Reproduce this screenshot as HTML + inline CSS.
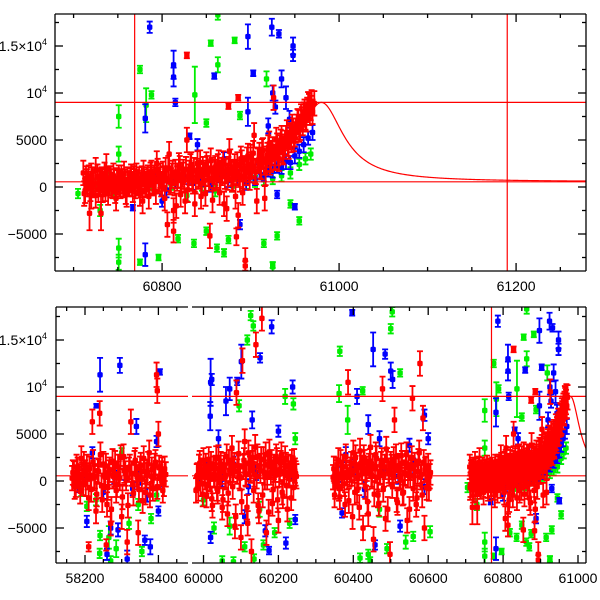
<!DOCTYPE html>
<html><head><meta charset="utf-8"><style>
html,body{margin:0;padding:0;background:#fff;}
svg{display:block;font-family:"Liberation Sans",sans-serif;}
</style></head><body>
<svg id="chart" width="600" height="600" viewBox="0 0 600 600">
<defs>
<clipPath id="clipTop"><rect x="55" y="14" width="531" height="257"/></clipPath>
<clipPath id="clipBot"><rect x="56" y="307" width="530" height="256"/></clipPath>
</defs>
<rect x="0" y="0" width="600" height="600" fill="#fff"/>
<g id="topData" clip-path="url(#clipTop)"></g>
<g id="botData" clip-path="url(#clipBot)"></g>
<g id="axes"></g>
</svg>
<script>
// ---- data: [time (MJD), flux, error] ----
const redD = [[60712,-700],[60714,900],[60716,300],[60718,-2800,1800],[60720,1200],[60722,200],[60725,1800],[60728,-300],[60730,500],[60732,800],[60734,300],[60736,-200],[60738,700],[60740,400],[60742,900],[60744,100],[60746,600],[60748,-1200],[60750,500],[60752,300],[60754,1000],[60756,200],[60758,600],[60760,-800],[60762,400],[60764,700],[60766,300],[60768,900],[60770,100],[60772,500],[60774,800],[60776,200],[60778,-1500],[60780,600],[60782,300],[60784,1000],[60786,500],[60788,1500],[60790,400],[60792,800],[60794,2500],[60796,600],[60798,1200],[60800,300],[60802,900],[60804,1800],[60806,-4000],[60808,3500],[60810,700],[60812,1500],[60814,400],[60816,-2000],[60818,1200],[60820,2000],[60822,800],[60824,1600],[60826,-1500],[60828,5000],[60830,1100],[60832,2200],[60834,900],[60836,1800],[60838,600],[60840,2500],[60842,1300],[60844,-1000],[60846,1900],[60848,700],[60850,2400],[60852,1400],[60854,-5200],[60856,1800],[60858,900],[60860,2000],[60862,1200],[60864,2600],[60866,800],[60868,1500],[60870,-1800],[60872,1700],[60874,1000],[60876,3800],[60878,1400],[60880,900],[60882,2200],[60884,1500],[60886,-3000],[60888,800],[60890,2600],[60892,1100],[60894,-7800],[60896,2900],[60898,1800],[60900,3200],[60902,2200],[60904,5500],[60906,1600],[60908,2800],[60910,3400],[60912,2100],[60914,3900],[60916,-1200],[60918,3000],[60920,4200],[60922,2600],[60924,3600],[60926,9500],[60928,3200],[60930,4400],[60932,3000],[60934,4800],[60936,3900],[60938,4300],[60940,5200],[60942,4600],[60944,5500],[60946,5000],[60948,6000],[60950,5600],[60952,6400],[60954,6900],[60956,6300],[60958,7200],[60960,7700],[60962,7400],[60964,8200],[60966,8600],[60968,8400],[60970,8000],[60972,8900],
[60828,14000,300],[60886,9500,300],[60875,8600,300],[60894,-8400,500],[60884,-5300,900],[60813,-4700,1200],[60731,-2800,1800],[60731,900,1000],[60737,2000,1500],[60720,-800,1500]];
const redD2 = [[60711,1500],[60713,-400],[60715,600],[60717,1000],[60719,-200],[60721,800],[60723,300],[60725,-900],[60727,1100],[60729,400],[60731,700],[60733,-300],[60735,1300],[60737,500],[60739,-600],[60741,900],[60743,200],[60745,1200],[60747,-400],[60749,700],[60751,1000],[60753,100],[60755,600],[60757,1400],[60759,-500],[60761,800],[60763,300],[60765,1100],[60767,-300],[60769,600],[60771,1200],[60773,400],[60775,-700],[60777,900],[60779,1500],[60781,200],[60783,800],[60785,-1000],[60787,1300],[60789,600],[60791,1000],[60793,-500],[60795,1700],[60797,800],[60799,300],[60801,1400],[60803,-1200],[60805,900],[60807,2000],[60809,500],[60811,1200],[60813,-2500],[60815,1600],[60817,900],[60819,2300],[60821,-800],[60823,1300],[60825,700],[60827,1900],[60829,-300],[60831,1500],[60833,2400],[60835,600],[60837,-1800],[60839,1700],[60841,1100],[60843,2600],[60845,400],[60847,1500],[60849,-700],[60851,2000],[60853,900],[60855,2800],[60857,-1400],[60859,1600],[60861,1000],[60863,2200],[60865,-600],[60867,1800],[60869,2500],[60871,1100],[60873,-2300],[60875,1900],[60877,2700],[60879,800],[60881,1600],[60883,-1000],[60885,2400],[60887,1300],[60889,3000],[60891,-600],[60893,2000],[60895,1500],[60897,3300],[60899,1000],[60901,2400],[60903,3600],[60905,1700],[60907,-1500],[60909,2900],[60911,2200],[60913,3800],[60915,2600],[60917,1500],[60919,3400],[60921,4600],[60923,2900],[60925,4000],[60927,3100],[60929,5000],[60931,3600],[60933,4200],[60935,5200],[60937,3700],[60939,4700],[60941,5800],[60943,4300],[60945,5300],[60947,6400],[60949,5100],[60951,6000],[60953,7000],[60955,6100],[60957,7500],[60959,6800],[60961,8000],[60963,7200],[60965,8800],[60967,7900],[60969,9000]];
const blueD = [[60767,-2200,300],[60781,7300,1500],[60786,17000,600],[60781,-7200,1200],[60813,13000,1500],[60813,11700,1000],[60815,9000,400],[60831,5400,300],[60859,11800,300],[60897,16000,1300],[60897,8000,1500],[60903,12100,300],[60924,17000,900],[60932,16300,400],[60948,15000,900],[60948,14000,600],[60935,11500,900],[60888,-4000,500],[60925,10000,800],[60928,8500,700],[60940,9500,1200],[60920,6500,800],[60944,7200,900],[60930,-800,400],[60950,-2100,300],
[60720,300,700],[60735,900,700],[60750,200,700],[60765,800,700],[60780,500,700],[60795,1200,800],[60805,-300,800],[60815,600,700],[60825,1100,800],[60835,400,700],[60845,900,800],[60855,200,700],[60865,1300,800],[60875,700,700],[60885,1000,800],[60895,500,800],[60900,1200,700],[60905,900,700],[60910,1600,800],[60915,1300,700],[60920,1900,800],[60925,1700,700],[60930,2300,800],[60935,2100,700],[60940,2700,800],[60945,2600,700],[60950,3300,800],[60955,3800,700],[60960,4500,800],[60965,5200,700],[60970,5800,800],[60840,4500,600],[60800,-1500,600],[60870,3000,700]];
const greenD = [[60751,7500,1200],[60751,-6500,1000],[60751,-8000,800],[60751,3500,800],[60775,12500,400],[60782,8700,1800],[60788,9800,400],[60775,-8000,300],[60796,-7500,300],[60837,9800,3000],[60855,15300,300],[60863,13000,800],[60882,15600,300],[60863,18300,500],[60888,7600,400],[60850,6800,400],[60818,-5500,400],[60836,-6000,400],[60850,-4700,400],[60862,-6500,400],[60870,-7000,400],[60875,-5600,400],[60925,-8500,500],[60915,-6000,400],[60930,-5200,400],[60925,-8300,300],[60918,11500,800],[60945,-1800,400],[60955,-3600,400],[60705,-700,500],[60730,-2500,600],[60740,1000,500],
[60725,200,600],[60745,-600,600],[60760,400,600],[60790,-200,600],[60810,300,600],[60828,-900,600],[60845,200,600],[60860,-400,600],[60880,100,600],[60895,400,600],[60905,600,600],[60915,800,600],[60925,900,600],[60935,1200,600],[60945,1500,600],[60955,2400,600],[60962,3000,600],[60968,3500,600]];

const redA = [[58165,300],[58170,800],[58175,-400],[58180,1200],[58185,500],[58190,2400],[58195,-200],[58200,900],[58205,1500],[58210,-1800],[58215,600],[58220,6300],[58225,300],[58230,-3200],[58235,1100],[58240,7200],[58245,-500],[58250,1800],[58255,400],[58260,-2500],[58265,900],[58270,-4500],[58275,2100],[58280,700],[58285,-1000],[58290,1500],[58295,300],[58300,-3800],[58305,2600],[58310,800],[58315,-6500],[58320,1200],[58325,6300],[58330,-400],[58335,1900],[58340,700],[58345,-5500],[58350,1300],[58355,200],[58360,2400],[58365,-1200],[58370,900],[58375,3000],[58380,500],[58385,-800],[58390,1600],[58395,11300],[58397,9600],[58400,5000],[58405,400],[58410,1200],[58415,-300],[58420,700],[58210,-7000,500],[58258,-6800,600]];
const redA2 = [[58167,900],[58172,-600],[58177,1500],[58182,200],[58187,-1100],[58192,700],[58197,1800],[58202,-300],[58207,400],[58212,1300],[58217,-900],[58222,2000],[58227,500],[58232,-1400],[58237,1000],[58242,2800],[58247,-2000],[58252,600],[58257,1600],[58262,-700],[58267,1200],[58272,-3000],[58277,500],[58282,1900],[58287,-400],[58292,800],[58297,2500],[58302,-1700],[58307,1100],[58312,300],[58317,-2600],[58322,1500],[58327,800],[58332,-1300],[58337,2200],[58342,400],[58347,-900],[58352,1700],[58357,-2100],[58362,1000],[58367,600],[58372,1800],[58377,-1500],[58382,1200],[58387,300],[58392,2000],[58397,-600],[58402,1400],[58407,800],[58412,-1000],[58417,1300]];
const blueA = [[58241,11300,1800],[58295,12300,800],[58404,11600,300],[58231,8000,200],[58205,-4300,600],[58378,-7000,800],[58363,-6300,500],[58270,-5000,700],[58400,-3200,500],[58340,5800,800],[58395,4200,600],[58260,-7800,600],[58290,-5200,700],[58220,3000,600],[58315,-8300,900],[58180,-500,700],[58200,600,700],[58250,-1200,700],[58280,400,700],[58310,800,700],[58330,-800,700],[58350,300,700],[58370,-1500,700],[58410,100,700]];
const greenA = [[58241,-5800,500],[58240,-7700,500],[58205,-2700,500],[58270,-8500,500],[58355,-7500,500],[58380,-4000,500],[58300,3000,500],[58265,-6000,1200],[58285,-7200,900],[58320,-4500,600],[58230,-2000,600],[58345,-2500,600],[58190,-1000,600],[58395,-1500,600]];

const redB = [[59980,-1000],[59984,600],[59988,1500],[59992,-300],[59996,900],[60000,2200],[60004,400],[60008,-1500],[60012,1100],[60016,300],[60020,1800],[60024,-2600],[60028,700],[60032,1400],[60036,-800],[60040,2500],[60044,500],[60048,1000],[60052,-2000],[60056,1700],[60060,600],[60064,-3500],[60068,2000],[60072,900],[60076,3500],[60080,1200],[60084,-4800],[60088,9400],[60092,1600],[60096,500],[60100,-6000],[60104,12800],[60108,2200],[60112,800],[60116,-2800],[60120,3000],[60124,1300],[60128,-7500],[60132,1900],[60136,700],[60140,14500],[60144,2600],[60148,-3200],[60152,1100],[60156,17300],[60160,2300],[60164,400],[60168,-5500],[60172,1800],[60176,3100],[60180,900],[60184,-2400],[60188,1500],[60192,600],[60196,2200],[60200,-4200],[60204,1200],[60208,2800],[60212,-1600],[60216,900],[60220,1700],[60224,-3000],[60228,800],[60232,1400],[60236,2000],[60240,-700],[60244,1100],[60248,500]];
const redB2 = [[59982,500],[59986,-800],[59990,1900],[59994,1100],[59998,-1400],[60002,800],[60006,1600],[60010,-500],[60014,2300],[60018,200],[60022,-1900],[60026,1300],[60030,600],[60034,2400],[60038,-1100],[60042,900],[60046,1800],[60050,-2800],[60054,1400],[60058,400],[60062,2600],[60066,-1300],[60070,1100],[60074,2000],[60078,-600],[60082,1700],[60086,-3800],[60090,1000],[60094,2900],[60098,300],[60102,-2200],[60106,1500],[60110,4200],[60114,700],[60118,-4500],[60122,1800],[60126,1100],[60130,2500],[60134,-1000],[60138,3600],[60142,500],[60146,-2600],[60150,1600],[60154,2300],[60158,-1500],[60162,900],[60166,2800],[60170,400],[60174,-3300],[60178,1500],[60182,2000],[60186,-900],[60190,1200],[60194,2600],[60198,-2000],[60202,700],[60206,1900],[60210,-1200],[60214,1000],[60218,2400],[60222,-500],[60226,1500],[60230,600],[60234,-1800],[60238,1300],[60242,2100],[60246,800]];
const blueB = [[60019,10500,2500],[60022,10800,600],[60018,6900,1500],[60101,12700,1800],[60090,10600,400],[60070,9800,1200],[60182,16400,700],[60151,13100,500],[60238,10000,700],[60019,-6000,600],[60175,-7400,400],[60165,-5300,600],[60220,-6600,600],[60245,-4100,500],[60060,8500,1500],[60130,6500,900],[60040,4500,900],[60200,5300,600],[60110,-3800,700],[59990,600,800],[60010,1500,800],[60050,200,800],[60080,1800,800],[60120,-600,800],[60140,900,800],[60190,1400,800],[60230,300,800]];
const greenB = [[60126,17600,500],[60133,16500,500],[60117,15000,500],[60095,8000,600],[60240,8200,600],[60218,9000,800],[60245,4500,600],[60050,-8500,500],[60080,-8600,500],[60110,-7000,500],[60160,-6800,500],[60028,-5000,600],[60230,-4500,500],[60135,-8300,500],[60070,-4800,900],[60190,-5500,500],[60150,-3000,800],[60000,-2000,600]];

const redC = [[60346,400],[60350,-1500],[60354,1200],[60358,600],[60362,-800],[60366,2000],[60370,300],[60374,1500],[60378,-2500],[60382,900],[60386,10500],[60390,700],[60394,1800],[60398,-3800],[60402,1100],[60406,2500],[60410,-1000],[60414,600],[60418,3200],[60422,1400],[60426,-5000],[60430,2000],[60434,800],[60438,-2200],[60442,1600],[60446,3600],[60450,500],[60454,-6200],[60458,1300],[60462,2400],[60466,-1500],[60470,900],[60474,1800],[60478,9800],[60482,700],[60486,-4000],[60490,2200],[60494,1100],[60498,-7800],[60502,1500],[60506,500],[60510,6500],[60514,2600],[60518,-2300],[60522,1200],[60526,400],[60530,1900],[60534,-1200],[60538,800],[60542,2800],[60546,600],[60550,-3000],[60554,1400],[60558,8800],[60562,500],[60566,1000],[60570,-1800],[60574,2100],[60578,12500],[60582,700],[60586,6700],[60590,-5000],[60594,1300],[60598,400],[60602,-800],[60606,900]];
const redC2 = [[60348,1300],[60352,-600],[60356,900],[60360,2200],[60364,-1700],[60368,600],[60372,1500],[60376,-300],[60380,2600],[60384,400],[60388,-2100],[60392,1200],[60396,800],[60400,3000],[60404,-1200],[60408,1700],[60412,400],[60416,-2800],[60420,1900],[60424,1000],[60428,2500],[60432,-600],[60436,1300],[60440,-3500],[60444,2100],[60448,700],[60452,1600],[60456,-1400],[60460,2800],[60464,400],[60468,-2400],[60472,1000],[60476,2200],[60480,-900],[60484,1500],[60488,3400],[60492,-3000],[60496,800],[60500,1800],[60504,-500],[60508,2300],[60512,1100],[60516,-2000],[60520,1600],[60524,500],[60528,2700],[60532,-1300],[60536,900],[60540,1900],[60544,-4200],[60548,1400],[60552,600],[60556,2400],[60560,-800],[60564,1700],[60568,-2500],[60572,1000],[60576,3000],[60580,400],[60584,-1500],[60588,2000],[60592,1200],[60596,-700],[60600,1600],[60604,500]];
const blueC = [[60397,17900,300],[60453,14000,1800],[60485,13500,500],[60500,11700,900],[60505,10800,900],[60410,9000,800],[60590,7000,600],[60458,-6800,500],[60370,-3400,500],[60525,-4800,600],[60440,6000,1000],[60470,4500,800],[60550,3800,700],[60600,4500,600],[60380,2800,800],[60360,700,800],[60400,1500,800],[60430,-900,800],[60480,1200,800],[60520,500,800],[60560,1600,800],[60590,-600,800]];
const greenC = [[60364,13800,500],[60504,18000,500],[60500,16200,500],[60525,11500,400],[60362,9300,900],[60425,9600,400],[60418,-8200,500],[60440,-7800,500],[60490,-7200,500],[60560,-5900,500],[60605,-5400,600],[60445,-8500,400],[60385,6500,1500],[60540,-6500,700],[60470,-3000,800]];

// model curve parameters and reference lines
const modelPeakTime = 60980, modelAmp = 8450, modelWidth = 30, modelBase = 550;
const hLines = [9000, 550];
const vLinesTop = [60769, 61190];
const vLinesBot = [60769];
const redDefaultErr = 1300;

// tick labels
const topXTicks = [60800, 61000, 61200];
const botXTicks = [58200, 58400, 60000, 60200, 60400, 60600, 60800, 61000];
const yTicks = [-5000, 0, 5000, 10000, 15000];

// ---- scales ----
const NS = "http://www.w3.org/2000/svg";
const yT = f => 187 - f * 0.0094;
const yB = f => 481 - f * 0.0094;
const xT = t => 55 + (t - 60679) * 0.885;
const xB = t => t < 59500 ? 85 + (t - 58200) * 0.367 : 203.5 + (t - 60000) * 0.3745;

function mk(tag, attrs, parent) {
  const el = document.createElementNS(NS, tag);
  for (const k in attrs) el.setAttribute(k, attrs[k]);
  parent.appendChild(el);
  return el;
}

function drawSeries(parent, data, color, xf, yf, defErr, name) {
  const g = mk('g', {}, parent);
  
  
  data.forEach(d => {
    const e = d.length > 2 ? d[2] : defErr;
    const x = xf(d[0]), y = yf(d[1]);
    const y1 = yf(d[1] - e), y2 = yf(d[1] + e);
    const p = mk('path', {d: `M${x},${y1}V${y2}M${x-3},${y1}h6M${x-3},${y2}h6`, stroke: color, 'stroke-width': 1.8, fill: 'none'}, g);
    
    
    const c = mk('rect', {x: x - 2.7, y: y - 2.7, width: 5.4, height: 5.4, rx: 1.5, fill: color}, g);
    
    
  });
}

function model(t) {
  const z = (t - modelPeakTime) / modelWidth;
  return modelBase + modelAmp / (1 + z * z);
}

const topG = document.getElementById('topData');
const botG = document.getElementById('botData');
const RED = '#ff0000', BLUE = '#0000ff', GREEN = '#00ee00';

// top panel
drawSeries(topG, greenD, GREEN, xT, yT, 600, 'green');
drawSeries(topG, blueD, BLUE, xT, yT, 700, 'blue');
drawSeries(topG, redD, RED, xT, yT, redDefaultErr, 'red');
drawSeries(topG, redD2, RED, xT, yT, redDefaultErr, 'red');
// bottom panel
[greenA, greenB, greenC, greenD].forEach(s => drawSeries(botG, s, GREEN, xB, yB, 600, 'green'));
[blueA, blueB, blueC, blueD].forEach(s => drawSeries(botG, s, BLUE, xB, yB, 700, 'blue'));
[redA, redA2, redB, redB2, redC, redC2, redD, redD2].forEach(s => drawSeries(botG, s, RED, xB, yB, redDefaultErr, 'red'));

// reference lines
hLines.forEach(v => {
  const l = mk('line', {x1: 55, x2: 586, y1: yT(v), y2: yT(v), stroke: RED, 'stroke-width': 1.2}, topG);
  
  
  const a = mk('line', {x1: 56, x2: 188, y1: yB(v), y2: yB(v), stroke: RED, 'stroke-width': 1.2}, botG);
  
  
  const b = mk('line', {x1: 192, x2: 586, y1: yB(v), y2: yB(v), stroke: RED, 'stroke-width': 1.2}, botG);
  
  
});
vLinesTop.forEach(t => {
  const l = mk('line', {x1: xT(t), x2: xT(t), y1: 14, y2: 271, stroke: RED, 'stroke-width': 1.2}, topG);
  
  
});
vLinesBot.forEach(t => {
  const l = mk('line', {x1: xB(t), x2: xB(t), y1: 307, y2: 563, stroke: RED, 'stroke-width': 1.2}, botG);
  
  
});

// model curves
let dTop = '', dBot = '';
for (let t = 60950; t <= 61280; t += 1) dTop += (dTop ? 'L' : 'M') + xT(t).toFixed(2) + ',' + yT(model(t)).toFixed(2);
for (let t = 60950; t <= 61025; t += 1) dBot += (dBot ? 'L' : 'M') + xB(t).toFixed(2) + ',' + yB(model(t)).toFixed(2);
const mc1 = mk('path', {d: dTop, stroke: RED, 'stroke-width': 1.2, fill: 'none'}, topG);


const mc2 = mk('path', {d: dBot, stroke: RED, 'stroke-width': 1.2, fill: 'none'}, botG);



// ---- axes ----
const ax = document.getElementById('axes');
function line(x1, y1, x2, y2, name) {
  const l = mk('line', {x1, y1, x2, y2, stroke: '#000', 'stroke-width': 1.3}, ax);
  
  
}
function text(x, y, str, anchor, name) {
  const t = mk('text', {x, y, 'text-anchor': anchor, 'font-size': 14, fill: '#000'}, ax);
  
  
  t.textContent = str;
  return t;
}
function yLabel(x, y, v) {
  const t = text(x, y, '', 'end', 'y-tick-label');
  if (v === 15000) { t.textContent = '1.5×10'; const s = mk('tspan', {dy: -6, 'font-size': 9}, t); s.textContent = '4'; }
  else if (v === 10000) { t.textContent = '10'; const s = mk('tspan', {dy: -6, 'font-size': 9}, t); s.textContent = '4'; }
  else t.textContent = v < 0 ? '−' + Math.abs(v) : String(v);
}

// top frame
line(55, 14, 586, 14, 'top-frame');
line(55, 271, 586, 271, 'top-frame');
line(55, 14, 55, 271, 'top-frame');
line(586, 14, 586, 271, 'top-frame');
for (let t = 60700; t <= 61250; t += 50) {
  const x = xT(t); if (x < 55 || x > 586) continue;
  const L = (t % 200 === 0) ? 8 : 4;
  line(x, 271, x, 271 - L, 'top-x-tick'); line(x, 14, x, 14 + L, 'top-x-tick');
}
topXTicks.forEach(t => text(xT(t), 291, String(t), 'middle', 'top-x-tick-label'));
for (let f = -7500; f <= 17500; f += 2500) {
  const y = yT(f); if (y < 14 || y > 271) continue;
  const L = (f % 5000 === 0) ? 8 : 4;
  line(55, y, 55 + L, y, 'top-y-tick'); line(586, y, 586 - L, y, 'top-y-tick');
}
yTicks.forEach(v => yLabel(47, yT(v) + 5, v));

// bottom frame (broken axis)
line(56, 307, 188, 307, 'bottom-frame'); line(192, 307, 586, 307, 'bottom-frame');
line(56, 563, 188, 563, 'bottom-frame'); line(192, 563, 586, 563, 'bottom-frame');
line(56, 307, 56, 563, 'bottom-frame'); line(586, 307, 586, 563, 'bottom-frame');
for (let t = 58150; t <= 58480; t += 50) {
  const x = xB(t); if (x < 56 || x > 188) continue;
  const L = (t % 200 === 0) ? 8 : 4;
  line(x, 563, x, 563 - L, 'bottom-x-tick'); line(x, 307, x, 307 + L, 'bottom-x-tick');
}
for (let t = 60000; t <= 61020; t += 50) {
  const x = xB(t); if (x < 192 || x > 586) continue;
  const L = (t % 200 === 0) ? 8 : 4;
  line(x, 563, x, 563 - L, 'bottom-x-tick'); line(x, 307, x, 307 + L, 'bottom-x-tick');
}
botXTicks.forEach(t => text(xB(t), 583, String(t), 'middle', 'bottom-x-tick-label'));
for (let f = -7500; f <= 17500; f += 2500) {
  const y = yB(f); if (y < 307 || y > 563) continue;
  const L = (f % 5000 === 0) ? 8 : 4;
  line(56, y, 56 + L, y, 'bottom-y-tick'); line(586, y, 586 - L, y, 'bottom-y-tick');
}
yTicks.forEach(v => yLabel(47, yB(v) + 5, v));
</script>
</body></html>
